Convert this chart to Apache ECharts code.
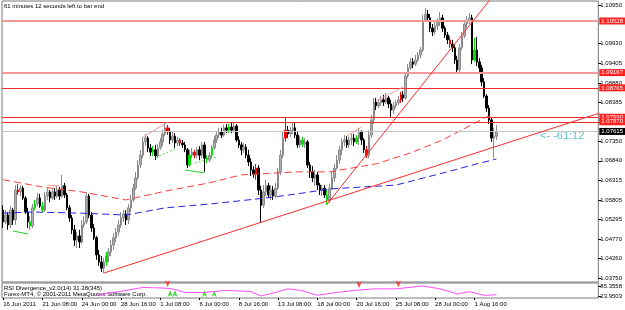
<!DOCTYPE html>
<html>
<head>
<meta charset="utf-8">
<script src="https://cdn.jsdelivr.net/npm/echarts@6/dist/echarts.min.js"></script>
<style>
  html, body { margin: 0; padding: 0; background: #fff; }
  #chart { width: 625px; height: 310px; }
</style>
</head>
<body>
<div id="chart"></div>
<script>
// EURUSD-like H4 bars: [open, close, low, high]
var ohlc = [
  [1.0554, 1.0523, 1.0507, 1.0567], [1.0523, 1.0541, 1.0517, 1.0554], [1.0541, 1.0515, 1.0502, 1.0549],
  [1.0515, 1.0554, 1.0507, 1.0565], [1.0554, 1.0528, 1.0515, 1.0560], [1.0528, 1.0607, 1.0515, 1.0620],
  [1.0607, 1.0602, 1.0594, 1.0623], [1.0602, 1.0612, 1.0591, 1.0620], [1.0612, 1.0586, 1.0581, 1.0618],
  [1.0586, 1.0549, 1.0544, 1.0591], [1.0549, 1.0523, 1.0507, 1.0560], [1.0523, 1.0512, 1.0502, 1.0538],
  [1.0512, 1.0560, 1.0507, 1.0570], [1.0560, 1.0570, 1.0554, 1.0581], [1.0570, 1.0586, 1.0565, 1.0599],
  [1.0586, 1.0565, 1.0560, 1.0597], [1.0565, 1.0554, 1.0549, 1.0575], [1.0554, 1.0591, 1.0549, 1.0602],
  [1.0591, 1.0602, 1.0581, 1.0612], [1.0602, 1.0586, 1.0575, 1.0607], [1.0586, 1.0602, 1.0581, 1.0610],
  [1.0602, 1.0591, 1.0581, 1.0612], [1.0591, 1.0607, 1.0586, 1.0618], [1.0607, 1.0591, 1.0581, 1.0615],
  [1.0591, 1.0618, 1.0586, 1.0647], [1.0618, 1.0594, 1.0586, 1.0626], [1.0594, 1.0560, 1.0554, 1.0599],
  [1.0560, 1.0533, 1.0523, 1.0567], [1.0533, 1.0502, 1.0491, 1.0541], [1.0502, 1.0475, 1.0459, 1.0515],
  [1.0475, 1.0486, 1.0454, 1.0496], [1.0486, 1.0470, 1.0454, 1.0502], [1.0470, 1.0515, 1.0465, 1.0528],
  [1.0515, 1.0523, 1.0507, 1.0538], [1.0523, 1.0591, 1.0517, 1.0602], [1.0591, 1.0541, 1.0533, 1.0597],
  [1.0541, 1.0507, 1.0496, 1.0549], [1.0507, 1.0481, 1.0475, 1.0517], [1.0481, 1.0436, 1.0423, 1.0486],
  [1.0436, 1.0417, 1.0407, 1.0449], [1.0417, 1.0401, 1.0391, 1.0433], [1.0401, 1.0417, 1.0388, 1.0428],
  [1.0417, 1.0433, 1.0407, 1.0444], [1.0433, 1.0444, 1.0417, 1.0454], [1.0444, 1.0462, 1.0433, 1.0475],
  [1.0462, 1.0481, 1.0449, 1.0494], [1.0481, 1.0496, 1.0470, 1.0507], [1.0496, 1.0515, 1.0486, 1.0528],
  [1.0515, 1.0533, 1.0507, 1.0549], [1.0533, 1.0544, 1.0523, 1.0554], [1.0544, 1.0528, 1.0515, 1.0554],
  [1.0528, 1.0560, 1.0517, 1.0570], [1.0560, 1.0581, 1.0549, 1.0594], [1.0581, 1.0612, 1.0575, 1.0623],
  [1.0612, 1.0639, 1.0607, 1.0655], [1.0639, 1.0673, 1.0634, 1.0686], [1.0673, 1.0699, 1.0665, 1.0713],
  [1.0699, 1.0734, 1.0691, 1.0747], [1.0734, 1.0744, 1.0723, 1.0755], [1.0744, 1.0718, 1.0707, 1.0749],
  [1.0718, 1.0707, 1.0697, 1.0728], [1.0707, 1.0713, 1.0697, 1.0723], [1.0713, 1.0697, 1.0686, 1.0726],
  [1.0697, 1.0718, 1.0691, 1.0728], [1.0718, 1.0734, 1.0713, 1.0744], [1.0734, 1.0755, 1.0723, 1.0765],
  [1.0755, 1.0771, 1.0749, 1.0786], [1.0771, 1.0760, 1.0752, 1.0779], [1.0760, 1.0739, 1.0728, 1.0771],
  [1.0739, 1.0749, 1.0731, 1.0760], [1.0749, 1.0731, 1.0718, 1.0757], [1.0731, 1.0739, 1.0723, 1.0747],
  [1.0739, 1.0731, 1.0723, 1.0744], [1.0731, 1.0726, 1.0718, 1.0739], [1.0726, 1.0713, 1.0707, 1.0734],
  [1.0713, 1.0673, 1.0665, 1.0718], [1.0673, 1.0699, 1.0668, 1.0713], [1.0699, 1.0707, 1.0691, 1.0718],
  [1.0707, 1.0699, 1.0691, 1.0713], [1.0699, 1.0713, 1.0691, 1.0720], [1.0713, 1.0699, 1.0686, 1.0723],
  [1.0699, 1.0726, 1.0691, 1.0734], [1.0726, 1.0691, 1.0655, 1.0734], [1.0691, 1.0686, 1.0678, 1.0699],
  [1.0686, 1.0699, 1.0681, 1.0707], [1.0699, 1.0718, 1.0691, 1.0726], [1.0718, 1.0739, 1.0713, 1.0749],
  [1.0739, 1.0752, 1.0731, 1.0760], [1.0752, 1.0760, 1.0744, 1.0771], [1.0760, 1.0752, 1.0744, 1.0771],
  [1.0752, 1.0771, 1.0747, 1.0779], [1.0771, 1.0765, 1.0757, 1.0781], [1.0765, 1.0773, 1.0757, 1.0781],
  [1.0773, 1.0765, 1.0757, 1.0784], [1.0765, 1.0776, 1.0760, 1.0786], [1.0776, 1.0739, 1.0734, 1.0781],
  [1.0739, 1.0726, 1.0718, 1.0749], [1.0726, 1.0713, 1.0699, 1.0734], [1.0713, 1.0720, 1.0705, 1.0731],
  [1.0720, 1.0699, 1.0691, 1.0728], [1.0699, 1.0681, 1.0670, 1.0713], [1.0681, 1.0660, 1.0644, 1.0691],
  [1.0660, 1.0649, 1.0639, 1.0670], [1.0649, 1.0665, 1.0634, 1.0676], [1.0665, 1.0607, 1.0594, 1.0673],
  [1.0607, 1.0567, 1.0523, 1.0618], [1.0567, 1.0602, 1.0560, 1.0620], [1.0602, 1.0618, 1.0591, 1.0634],
  [1.0618, 1.0594, 1.0586, 1.0626], [1.0594, 1.0607, 1.0581, 1.0620], [1.0607, 1.0591, 1.0581, 1.0618],
  [1.0591, 1.0612, 1.0586, 1.0626], [1.0612, 1.0655, 1.0607, 1.0665], [1.0655, 1.0699, 1.0647, 1.0713],
  [1.0699, 1.0744, 1.0691, 1.0760], [1.0744, 1.0765, 1.0734, 1.0800], [1.0765, 1.0755, 1.0744, 1.0776],
  [1.0755, 1.0765, 1.0747, 1.0773], [1.0765, 1.0771, 1.0755, 1.0786], [1.0771, 1.0752, 1.0744, 1.0786],
  [1.0752, 1.0726, 1.0718, 1.0760], [1.0726, 1.0739, 1.0718, 1.0749], [1.0739, 1.0728, 1.0720, 1.0747],
  [1.0728, 1.0734, 1.0718, 1.0744], [1.0734, 1.0673, 1.0665, 1.0739], [1.0673, 1.0655, 1.0639, 1.0681],
  [1.0655, 1.0639, 1.0628, 1.0670], [1.0639, 1.0647, 1.0618, 1.0660], [1.0647, 1.0620, 1.0607, 1.0655],
  [1.0620, 1.0607, 1.0594, 1.0626], [1.0607, 1.0612, 1.0591, 1.0620], [1.0612, 1.0594, 1.0586, 1.0620],
  [1.0594, 1.0581, 1.0567, 1.0607], [1.0581, 1.0612, 1.0573, 1.0623], [1.0612, 1.0639, 1.0607, 1.0655],
  [1.0639, 1.0665, 1.0628, 1.0676], [1.0665, 1.0686, 1.0660, 1.0699], [1.0686, 1.0713, 1.0676, 1.0723],
  [1.0713, 1.0734, 1.0699, 1.0744], [1.0734, 1.0739, 1.0723, 1.0752], [1.0739, 1.0726, 1.0718, 1.0749],
  [1.0726, 1.0739, 1.0718, 1.0749], [1.0739, 1.0744, 1.0726, 1.0755], [1.0744, 1.0734, 1.0723, 1.0755],
  [1.0734, 1.0744, 1.0728, 1.0752], [1.0744, 1.0760, 1.0726, 1.0771], [1.0760, 1.0739, 1.0726, 1.0765],
  [1.0739, 1.0713, 1.0705, 1.0744], [1.0713, 1.0699, 1.0691, 1.0723], [1.0699, 1.0752, 1.0691, 1.0765],
  [1.0752, 1.0792, 1.0744, 1.0805], [1.0792, 1.0839, 1.0781, 1.0850], [1.0839, 1.0829, 1.0818, 1.0850],
  [1.0829, 1.0837, 1.0823, 1.0847], [1.0837, 1.0845, 1.0829, 1.0855], [1.0845, 1.0839, 1.0829, 1.0858],
  [1.0839, 1.0850, 1.0834, 1.0863], [1.0850, 1.0834, 1.0823, 1.0855], [1.0834, 1.0818, 1.0800, 1.0845],
  [1.0818, 1.0829, 1.0808, 1.0839], [1.0829, 1.0837, 1.0823, 1.0845], [1.0837, 1.0845, 1.0831, 1.0855],
  [1.0845, 1.0858, 1.0837, 1.0866], [1.0858, 1.0850, 1.0839, 1.0868], [1.0850, 1.0908, 1.0845, 1.0918],
  [1.0908, 1.0929, 1.0902, 1.0939], [1.0929, 1.0945, 1.0924, 1.0955], [1.0945, 1.0939, 1.0929, 1.0955],
  [1.0939, 1.0950, 1.0934, 1.0963], [1.0950, 1.0963, 1.0945, 1.0971], [1.0963, 1.0976, 1.0955, 1.0984],
  [1.0976, 1.1055, 1.0971, 1.1069], [1.1055, 1.1071, 1.1050, 1.1087], [1.1071, 1.1061, 1.1050, 1.1082],
  [1.1061, 1.1034, 1.1024, 1.1071], [1.1034, 1.1024, 1.1013, 1.1045], [1.1024, 1.1040, 1.1016, 1.1050],
  [1.1040, 1.1050, 1.1029, 1.1061], [1.1050, 1.1061, 1.1040, 1.1077], [1.1061, 1.1034, 1.1024, 1.1069],
  [1.1034, 1.1016, 1.1008, 1.1040], [1.1016, 1.1003, 1.0992, 1.1024], [1.1003, 1.0992, 1.0982, 1.1013],
  [1.0992, 1.0982, 1.0971, 1.1003], [1.0982, 1.0950, 1.0939, 1.0989], [1.0950, 1.0924, 1.0913, 1.0961],
  [1.0924, 1.0982, 1.0918, 1.0992], [1.0982, 1.1013, 1.0976, 1.1024], [1.1013, 1.1045, 1.1008, 1.1055],
  [1.1045, 1.1055, 1.1034, 1.1066], [1.1055, 1.1061, 1.1045, 1.1074], [1.1061, 1.0950, 1.0939, 1.1069],
  [1.0950, 1.0976, 1.0945, 1.1008], [1.0976, 1.0945, 1.0934, 1.1011], [1.0945, 1.0929, 1.0918, 1.0955],
  [1.0929, 1.0892, 1.0881, 1.0937], [1.0892, 1.0855, 1.0850, 1.0902], [1.0855, 1.0823, 1.0813, 1.0860],
  [1.0823, 1.0792, 1.0781, 1.0831], [1.0792, 1.0744, 1.0734, 1.0797], [1.0744, 1.0749, 1.0691, 1.0771],
  [1.0749, 1.07615, 1.0739, 1.0779]
];

// bars the divergence indicator paints red / green
var redBars = [6, 67, 72, 78, 103, 115, 148, 162, 182];
var greenBars = [11, 13, 16, 42, 61, 76, 83, 85, 92, 122, 132, 144, 192];

// moving averages, [bar, price]
var maRed = [[0, 1.0634], [16, 1.0615], [32, 1.0602], [43, 1.0589], [50, 1.0581], [66, 1.0604], [84, 1.0626],
  [97, 1.0647], [120, 1.0655], [133, 1.0655], [152, 1.0676], [166, 1.0705], [179, 1.0739], [197, 1.0800], [199, 1.0803]];
var maBlue = [[0, 1.0546], [12, 1.0549], [32, 1.0546], [50, 1.0541], [66, 1.0560], [84, 1.0570], [107, 1.0586],
  [120, 1.0597], [133, 1.0610], [160, 1.0620], [181, 1.0655], [193, 1.0676], [201, 1.0689]];

// trend lines and divergence lines, [bar, price]
var trendLong = [[41.2, 1.0388], [242.5, 1.0810]];
var trendSteep = [[132.2, 1.0570], [198.5, 1.1114]];
var pinkLines = [
  [[56.6, 1.0747], [66.6, 1.0786]],
  [[139.5, 1.0750], [146, 1.0773]],
  [[151.6, 1.0842], [163, 1.0879]],
  [[17.7, 1.0620], [23, 1.0618]]
];
var greenLines = [[[3.6, 1.0499], [9.6, 1.0491]], [[74.3, 1.0660], [82.4, 1.0652]]];
var greenDotted = [[[62.2, 1.0692], [70.7, 1.0718]], [[78.4, 1.0678], [86.9, 1.0694]]];

// horizontal levels
var levelsLight = [1.10528, 1.09167];
var levelsRed = [1.08765, 1.07990, 1.07870];
var bidPrice = 1.07615;

// price axis ticks
var priceTicks = [1.10950, 1.09930, 1.09405, 1.08880, 1.08385, 1.07870, 1.07350, 1.06840,
  1.06315, 1.05805, 1.05295, 1.04770, 1.04260, 1.03750];

// time axis labels, one every 16 bars
var timeLabels = ['16 Jun 2011', '21 Jun 08:00', '24 Jun 00:00', '28 Jun 16:00', '1 Jul 08:00', '6 Jul 00:00',
  '8 Jul 16:00', '13 Jul 08:00', '18 Jul 00:00', '20 Jul 16:00', '25 Jul 08:00', '28 Jul 00:00', '1 Aug 16:00'];

// RSI(14) sub window, [bar, value]
var rsi = [[38, 28.3], [47, 50.3], [57, 76.6], [66, 72.2], [69, 67.8], [74, 45.9], [82, 45.9], [91, 59.0],
  [101, 50.3], [105, 24.0], [111, 45.9], [116, 67.8], [121, 59.0], [128, 28.3], [136, 45.9], [144, 59.0],
  [151, 67.8], [160, 67.8], [171, 85.4], [178, 67.8], [185, 37.1], [190, 50.3], [196, 28.3], [201, 31.4]];
var rsiTicks = [85.3558, 23.9503];
var rsiDownArrows = [[67, 78], [145, 72], [161, 76]];
var rsiUpArrows = [[68, 61], [70, 61], [82, 61], [86, 61]];

var FONT = "'Liberation Sans', Arial, sans-serif";
var FS = 6;
var SLOTS = 243;

var chart = echarts.init(document.getElementById('chart'));

function initChart() {
  var cats = [];
  for (var i = 0; i < SLOTS; i++) cats.push(String(i));

  var candleData = ohlc.map(function (row, idx) {
    var c = null;
    if (redBars.indexOf(idx) >= 0) c = '#ff0000';
    if (greenBars.indexOf(idx) >= 0) c = '#00e000';
    if (!c) return row;
    return { value: row, itemStyle: { color: c, color0: c, borderColor: c, borderColor0: c } };
  });

  var boxLabel = function (bg) {
    return {
      show: true, position: 'end', distance: 1,
      formatter: function (p) { return Number(p.value).toFixed(5); },
      color: '#fff', backgroundColor: bg, padding: [1, 2, 0, 2],
      fontSize: FS, fontFamily: FONT
    };
  };

  var markData = [];
  levelsLight.forEach(function (v) {
    markData.push({ yAxis: v, lineStyle: { color: '#f29a9a', width: 2, type: 'solid' }, label: boxLabel('#ff2020') });
  });
  levelsRed.forEach(function (v) {
    markData.push({ yAxis: v, lineStyle: { color: '#ee2c2c', width: 1, type: 'solid' }, label: boxLabel('#ff2020') });
  });
  markData.push({ yAxis: bidPrice, lineStyle: { color: '#c4c4c4', width: 1, type: 'solid' }, label: boxLabel('#000') });

  var series = [{
    type: 'candlestick',
    xAxisIndex: 0, yAxisIndex: 0,
    data: candleData,
    barWidth: 2,
    itemStyle: { color: '#b0b0b0', color0: '#000', borderColor: '#8a8a8a', borderColor0: '#000', borderWidth: 1 },
    markLine: { silent: true, symbol: ['none', 'none'], precision: 5, animation: false, data: markData },
    z: 3
  }, {
    type: 'line', data: maRed, showSymbol: false, silent: true,
    lineStyle: { color: '#ff3c3c', width: 1, type: [7, 4] }, z: 4
  }, {
    type: 'line', data: maBlue, showSymbol: false, silent: true,
    lineStyle: { color: '#2424e0', width: 1, type: [7, 4] }, z: 4
  }, {
    type: 'line', data: trendLong, showSymbol: false, silent: true,
    lineStyle: { color: '#ff2a2a', width: 1 }, z: 5
  }, {
    type: 'line', data: trendSteep, showSymbol: false, silent: true,
    lineStyle: { color: '#ff2a2a', width: 1 }, z: 5
  }];

  pinkLines.forEach(function (seg) {
    series.push({ type: 'line', data: seg, showSymbol: false, silent: true, lineStyle: { color: '#f59a9a', width: 1 }, z: 5 });
  });
  greenLines.forEach(function (seg) {
    series.push({ type: 'line', data: seg, showSymbol: false, silent: true, lineStyle: { color: '#22cc22', width: 1 }, z: 5 });
  });
  greenDotted.forEach(function (seg) {
    series.push({ type: 'line', data: seg, showSymbol: false, silent: true, lineStyle: { color: '#44dd44', width: 1, type: [2, 2] }, z: 5 });
  });

  // RSI window
  series.push({
    type: 'line', xAxisIndex: 1, yAxisIndex: 1, data: rsi, showSymbol: false, silent: true,
    lineStyle: { color: '#ff4cff', width: 1 }
  });
  series.push({
    type: 'scatter', xAxisIndex: 1, yAxisIndex: 1, data: rsiDownArrows, silent: true,
    symbol: 'arrow', symbolRotate: 180, symbolSize: [4, 7], itemStyle: { color: '#ff2020' }
  });
  series.push({
    type: 'scatter', xAxisIndex: 1, yAxisIndex: 1, data: rsiUpArrows, silent: true,
    symbol: 'arrow', symbolSize: [4, 7], itemStyle: { color: '#20d020' }
  });

  var everySixteen = function (idx) { return idx % 16 === 0 && idx / 16 < timeLabels.length; };

  chart.setOption({
    animation: false,
    backgroundColor: '#fff',
    grid: [
      { left: 2, right: 22, top: 1, height: 281, show: true, borderColor: '#7a7a7a', borderWidth: 1 },
      { left: 2, right: 22, top: 283, height: 15, show: true, borderColor: '#7a7a7a', borderWidth: 1 }
    ],
    xAxis: [{
      type: 'category', gridIndex: 0, data: cats, show: false
    }, {
      type: 'category', gridIndex: 1, data: cats,
      axisLine: { show: false },
      axisTick: { show: true, interval: everySixteen, alignWithLabel: true, length: 2, lineStyle: { color: '#000' } },
      axisLabel: {
        interval: everySixteen, align: 'left', margin: 3,
        formatter: function (v, idx) { return timeLabels[idx / 16]; },
        fontSize: FS, fontFamily: FONT, color: '#000'
      }
    }],
    yAxis: [{
      type: 'value', gridIndex: 0, position: 'right',
      min: 1.036445, max: 1.110555,
      splitLine: { show: false },
      axisLine: { show: false },
      axisTick: { show: true, customValues: priceTicks, length: 3, lineStyle: { color: '#000' } },
      axisLabel: {
        customValues: priceTicks, margin: 2,
        formatter: function (v) { return v.toFixed(5); },
        fontSize: FS, fontFamily: FONT, color: '#000'
      }
    }, {
      type: 'value', gridIndex: 1, position: 'right',
      min: 11.68, max: 103.78,
      splitLine: { show: false },
      axisLine: { show: false },
      axisTick: { show: true, customValues: rsiTicks, length: 3, lineStyle: { color: '#000' } },
      axisLabel: {
        customValues: rsiTicks, margin: 2,
        formatter: function (v) { return v.toFixed(4); },
        fontSize: FS, fontFamily: FONT, color: '#000'
      }
    }],
    graphic: [
      { type: 'text', left: 4, top: 3, style: { text: '61 minutes 12 seconds left to bar end', font: FS + 'px ' + FONT, fill: '#000' } },
      { type: 'text', left: 4, top: 285, style: { text: 'RSI Divergence_v2.0(14) 31.38(345)', font: FS + 'px ' + FONT, fill: '#000' } },
      { type: 'text', left: 4, top: 291, style: { text: 'Forex-MT4, \u00a9 2001-2011 MetaQuotes Software Corp.', font: FS + 'px ' + FONT, fill: '#000' } },
      { type: 'text', left: 540, top: 130, style: { text: '<- -61:12', font: '11px "Liberation Sans", sans-serif', fill: '#55c4cc' } }
    ],
    series: series
  });
}

initChart();
</script>
</body>
</html>
